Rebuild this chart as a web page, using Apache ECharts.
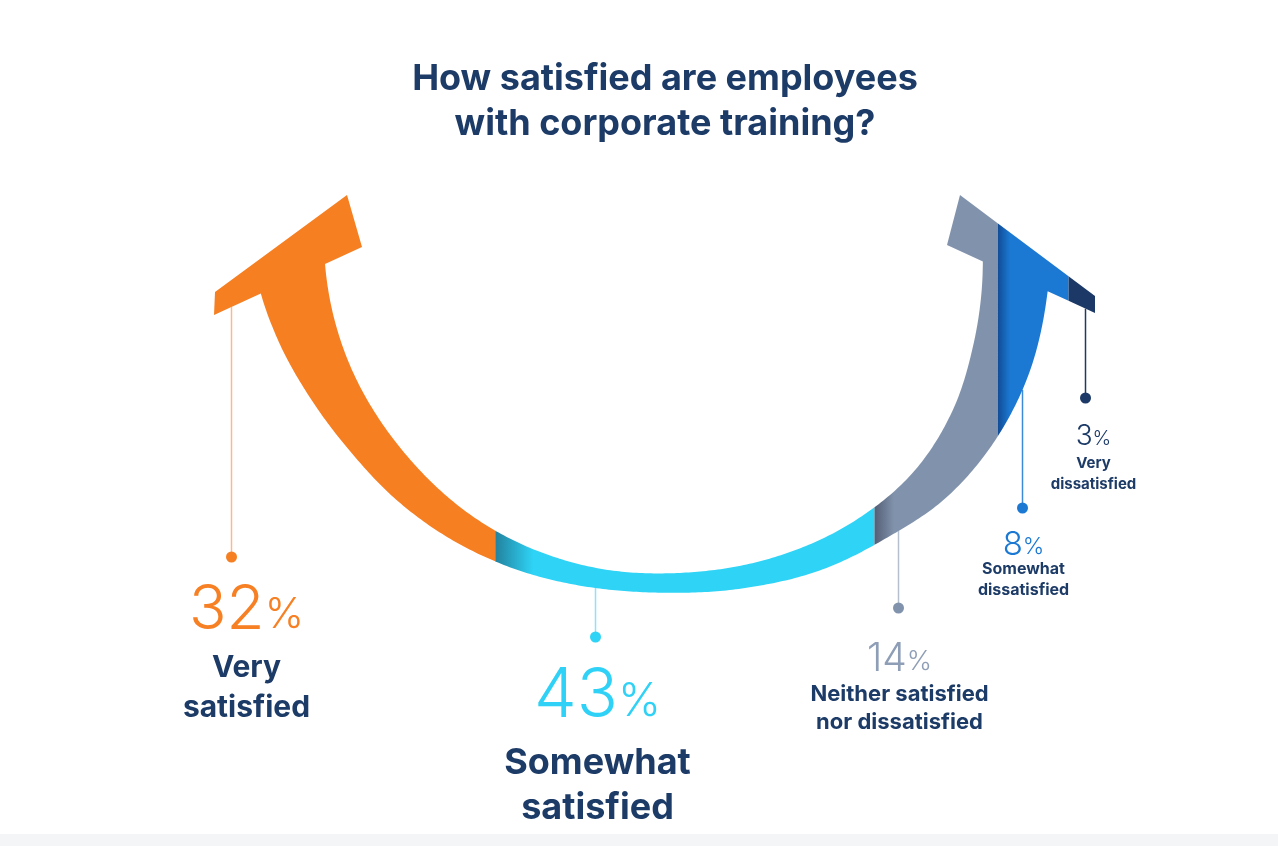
<!DOCTYPE html>
<html>
<head>
<meta charset="utf-8">
<script src="https://cdn.jsdelivr.net/npm/echarts@6/dist/echarts.min.js"></script>
<style>
  html, body { margin: 0; padding: 0; background: #fff; }
  #chart { width: 1278px; height: 846px; }
</style>
</head>
<body>
<div id="chart"></div>
<script>
// data
var categories = [
  "Very\nsatisfied",
  "Somewhat\nsatisfied",
  "Neither satisfied\nnor dissatisfied",
  "Somewhat\ndissatisfied",
  "Very\ndissatisfied"
];
var shares = [32, 43, 14, 8, 3];

// colours
var colors = ["#f67f22", "#2ed3f6", "#8193ac", "#1b79d3", "#1b3866"];
var shadeColors = ["#f67f22", "#22829e", "#545f76", "#114c96", "#1b3866"];
var shadeWidth = [0, 0.1, 0.16, 0.17, 0];
var numColors = ["#f68023", "#2fd2f6", "#8e9eb6", "#1b79d3", "#1d3b67"];
var lineColors = ["#f9b98e", "#8fe3f8", "#b5c0cf", "#3d8ad9", "#1d3b67"];
var navy = "#1d3b67";

// label layout (line position inside its piece, dot and text placement)
var labelLayout = [
  { at: 0.064, dotY: 557, dx: 15, numY: 610, nameY: 688, num: 62, pct: 42, name: 30, lh: 40 },
  { at: 0.264, dotY: 637, dx: 2, numY: 697, nameY: 786, num: 68, pct: 46, name: 36, lh: 45 },
  { at: 0.187, dotY: 608, dx: 1, numY: 659, nameY: 708, num: 39, pct: 27, name: 22, lh: 28 },
  { at: 0.338, dotY: 508, dx: 1, numY: 545, nameY: 580, num: 33, pct: 23, name: 16, lh: 21 },
  { at: 0.63, dotY: 398, dx: 8, numY: 437, nameY: 474, num: 28, pct: 20, name: 15, lh: 21 }
];

// arrow shape, in a 882 x 398 design box (x follows the 0-100 share axis)
// the band is described in polar form around one centre: radius by angle (deg, y down)
var ARROW_W = 882, ARROW_H = 398;
var centre = [441, 45];
var headL = [[1, 120], [2, 97], [134, 0], [149, 52]];
var headR = [[734, 50], [747, 0], [882, 101], [882, 118]];
var innerTheta = [-10, 0, 5, 18, 30, 42, 55, 70, 85, 100, 120, 140, 160, 180, 190];
var innerR = [329, 329, 330, 336, 344, 348, 345, 339, 334, 333, 331, 328, 329, 330, 330];
var outerTheta = [-10, 0, 8, 20, 32, 42, 52, 63, 75, 88, 100, 115, 125, 135, 145, 155, 165, 175, 190];
var outerR = [397, 397, 397, 398, 395, 389, 378, 370, 360, 353, 353, 358, 362, 366, 370, 378, 389, 399, 405];

function radiusAt(ths, rs, th) {
  var n = ths.length;
  if (th <= ths[0]) return rs[0];
  if (th >= ths[n - 1]) return rs[n - 1];
  var k = 0;
  while (th > ths[k + 1]) k++;
  var slope = function (j) {
    var a = Math.max(j - 1, 0), b = Math.min(j + 1, n - 1);
    return (rs[b] - rs[a]) / (ths[b] - ths[a]);
  };
  var h = ths[k + 1] - ths[k];
  var t = (th - ths[k]) / h;
  var t2 = t * t, t3 = t2 * t;
  return (2 * t3 - 3 * t2 + 1) * rs[k] + (t3 - 2 * t2 + t) * h * slope(k) +
    (-2 * t3 + 3 * t2) * rs[k + 1] + (t3 - t2) * h * slope(k + 1);
}

function edgePoint(ths, rs, th) {
  var r = radiusAt(ths, rs, th);
  var a = th * Math.PI / 180;
  return [centre[0] + r * Math.cos(a), centre[1] + r * Math.sin(a)];
}

// angle where an edge meets the underside of an arrow head
function meet(ths, rs, A, B, lo, hi) {
  var side = function (th) {
    var p = edgePoint(ths, rs, th);
    return (B[0] - A[0]) * (p[1] - A[1]) - (B[1] - A[1]) * (p[0] - A[0]);
  };
  var slo = side(lo);
  for (var k = 0; k < 50; k++) {
    var mid = (lo + hi) / 2;
    var sm = side(mid);
    if ((sm > 0) === (slo > 0)) { lo = mid; slo = sm; } else { hi = mid; }
  }
  return (lo + hi) / 2;
}

function edge(ths, rs, a0, a1) {
  var out = [];
  var n = Math.ceil(Math.abs(a1 - a0) / 0.5);
  for (var k = 0; k <= n; k++) {
    out.push(edgePoint(ths, rs, a0 + (a1 - a0) * k / n));
  }
  return out;
}

var thLI = meet(innerTheta, innerR, headL[3], headL[0], 140, 188);
var thLO = meet(outerTheta, outerR, headL[3], headL[0], 140, 188);
var thRI = meet(innerTheta, innerR, headR[0], headR[3], -9, 30);
var thRO = meet(outerTheta, outerR, headR[0], headR[3], -9, 30);

var outline = headL.concat(
  edge(innerTheta, innerR, thLI, thRI),
  headR,
  edge(outerTheta, outerR, thRO, thLO)
);

function clipSide(poly, x, keepRight) {
  var out = [];
  for (var k = 0; k < poly.length; k++) {
    var a = poly[k], b = poly[(k + 1) % poly.length];
    var ina = keepRight ? a[0] >= x : a[0] <= x;
    var inb = keepRight ? b[0] >= x : b[0] <= x;
    if (ina) out.push(a);
    if (ina !== inb) {
      var t = (x - a[0]) / (b[0] - a[0]);
      out.push([x, a[1] + t * (b[1] - a[1])]);
    }
  }
  return out;
}

function bottomAt(poly, x) {
  var best = -Infinity;
  for (var k = 0; k < poly.length; k++) {
    var a = poly[k], b = poly[(k + 1) % poly.length];
    if (a[0] === b[0]) continue;
    if ((a[0] - x) * (b[0] - x) <= 0) {
      var y = a[1] + (x - a[0]) / (b[0] - a[0]) * (b[1] - a[1]);
      if (y > best) best = y;
    }
  }
  return best;
}

// cumulative ranges along the x axis
var pieces = [];
var acc = 0;
for (var i = 0; i < shares.length; i++) {
  pieces.push([acc, acc + shares[i], i]);
  acc += shares[i];
}

function renderItem(params, api) {
  var i = params.dataIndex;
  var x0 = api.coord([api.value(0), 0])[0];
  var x1 = api.coord([api.value(1), 0])[0];
  var poly = outline.map(function (d) {
    return api.coord([d[0] / ARROW_W * 100, d[1] / ARROW_H * 100]);
  });
  var piece = clipSide(clipSide(poly, x0, true), x1, false);
  var fill = colors[i];
  if (shadeWidth[i] > 0) {
    fill = new echarts.graphic.LinearGradient(0, 0, 1, 0, [
      { offset: 0, color: shadeColors[i] },
      { offset: shadeWidth[i], color: colors[i] },
      { offset: 1, color: colors[i] }
    ]);
  }
  var lay = labelLayout[i];
  var lx = Math.round(x0 + (x1 - x0) * lay.at) + 0.5;
  var top = bottomAt(poly, lx);
  return {
    type: "group",
    children: [
      { type: "polygon", shape: { points: piece }, style: { fill: fill } },
      {
        type: "line",
        shape: { x1: lx, y1: top, x2: lx, y2: lay.dotY },
        style: { stroke: lineColors[i], lineWidth: 1.5 }
      },
      { type: "circle", shape: { cx: lx, cy: lay.dotY, r: 5.5 }, style: { fill: colors[i] } },
      {
        type: "text",
        x: lx + lay.dx,
        y: lay.numY,
        style: {
          text: "{n|" + shares[i] + "}{p|%}",
          align: "center",
          verticalAlign: "middle",
          rich: {
            n: { fontSize: lay.num, fontFamily: "Inter", fontWeight: 300, fill: numColors[i], verticalAlign: "bottom", lineHeight: lay.num },
            p: { fontSize: lay.pct, fontFamily: "Inter", fontWeight: 300, fill: numColors[i], verticalAlign: "bottom", lineHeight: lay.num, padding: [0, 0, lay.num * 0.08, 0] }
          }
        }
      },
      {
        type: "text",
        x: lx + lay.dx,
        y: lay.nameY,
        style: {
          text: categories[i],
          align: "center",
          verticalAlign: "middle",
          fontSize: lay.name,
          fontFamily: "Inter",
          fontWeight: "bold",
          lineHeight: lay.lh,
          fill: navy
        }
      }
    ]
  };
}

var myChart = echarts.init(document.getElementById("chart"));
myChart.setOption({
  backgroundColor: "#ffffff",
  animation: false,
  title: {
    text: "How satisfied are employees\nwith corporate training?",
    left: 660,
    top: 52,
    textAlign: "center",
    textStyle: {
      fontFamily: "Inter",
      fontWeight: "bold",
      fontSize: 36,
      lineHeight: 45,
      color: navy
    }
  },
  graphic: [
    { type: "rect", left: 0, top: 834, shape: { width: 1278, height: 12 }, style: { fill: "#f4f5f7" }, silent: true }
  ],
  grid: { left: 213, right: 183, top: 195, bottom: 253 },
  xAxis: { type: "value", min: 0, max: 100, show: false },
  yAxis: { type: "value", min: 0, max: 100, inverse: true, show: false },
  series: [{
    type: "custom",
    renderItem: renderItem,
    data: pieces,
    encode: { x: [0, 1], y: 2 },
    clip: false,
    silent: true
  }]
});
</script>
</body>
</html>
